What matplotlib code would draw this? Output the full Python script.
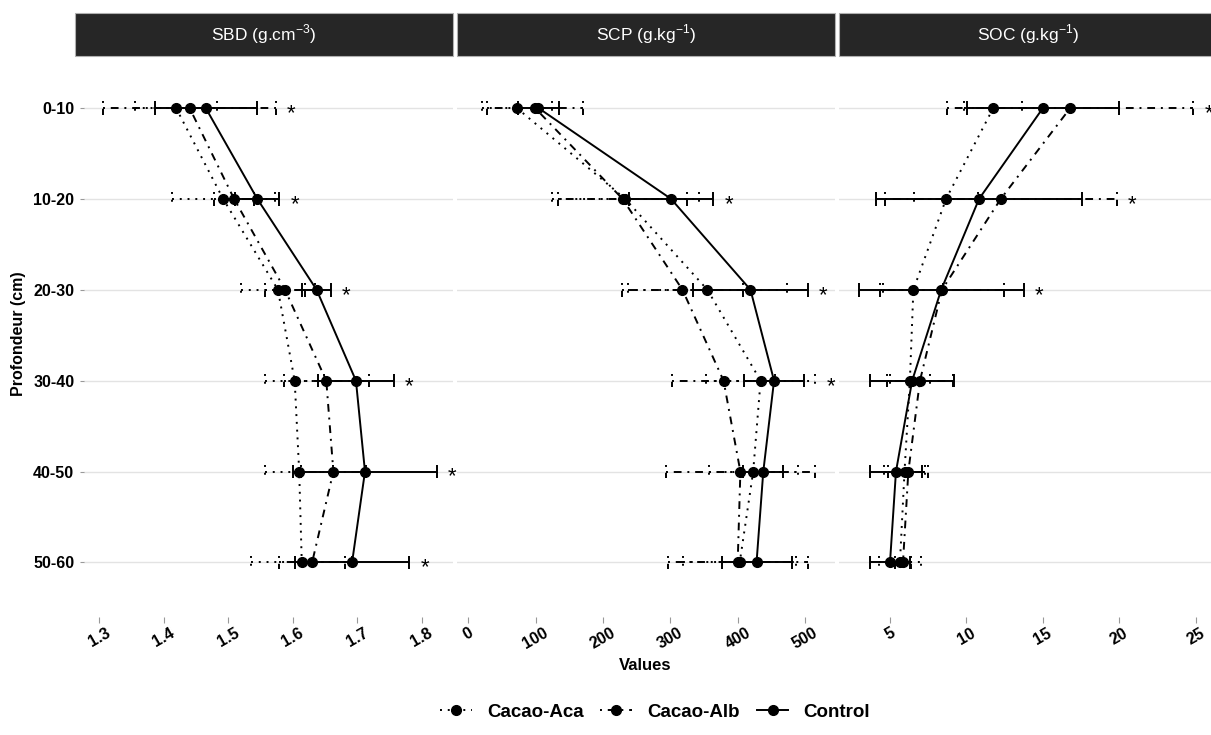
import numpy as np
import matplotlib
matplotlib.use("Agg")
import matplotlib.pyplot as plt
from matplotlib.lines import Line2D
from matplotlib.patches import Rectangle

plt.rcParams['font.family'] = ['Liberation Sans', 'DejaVu Sans']
plt.rcParams['mathtext.fontset'] = 'custom'
plt.rcParams['mathtext.rm'] = 'Liberation Sans'

# --- data ---
depths = ["0-10", "10-20", "20-30", "30-40", "40-50", "50-60"]
series = ["Cacao-Aca", "Cacao-Alb", "Control"]

sbd_aca = [1.419, 1.492, 1.577, 1.603, 1.610, 1.614]
sbd_aca_sd = [0.064, 0.080, 0.058, 0.046, 0.053, 0.078]
sbd_alb = [1.440, 1.509, 1.588, 1.652, 1.663, 1.630]
sbd_alb_sd = [0.134, 0.031, 0.031, 0.066, 0.050, 0.051]
sbd_ctl = [1.465, 1.545, 1.637, 1.698, 1.712, 1.692]
sbd_ctl_sd = [0.079, 0.034, 0.022, 0.059, 0.111, 0.089]
sbd_sig = [True, True, True, True, True, True]

scp_aca = [72, 233, 355, 434, 423, 403]
scp_aca_sd = [52, 109, 118, 81, 66, 84]
scp_alb = [99, 229, 318, 379, 404, 400]
scp_alb_sd = [71, 96, 90, 77, 111, 104]
scp_ctl = [104, 301, 419, 454, 438, 428]
scp_ctl_sd = [30, 63, 85, 44, 30, 52]
scp_sig = [False, True, True, True, False, False]

soc_aca = [11.76, 8.67, 6.53, 6.30, 5.95, 5.65]
soc_aca_sd = [1.90, 2.10, 1.97, 1.32, 1.35, 1.38]
soc_alb = [16.80, 12.25, 8.40, 6.96, 6.20, 5.85]
soc_alb_sd = [8.05, 7.59, 4.08, 2.18, 1.31, 0.55]
soc_ctl = [15.01, 10.83, 8.35, 6.45, 5.39, 5.00]
soc_ctl_sd = [5.00, 6.72, 5.39, 2.76, 1.70, 1.31]
soc_sig = [True, True, True, False, False, False]

panels = [
    (r'SBD (g.cm$^{\mathregular{-3}}$)', [sbd_aca, sbd_alb, sbd_ctl],
     [sbd_aca_sd, sbd_alb_sd, sbd_ctl_sd], sbd_sig,
     [1.3, 1.4, 1.5, 1.6, 1.7, 1.8], ["1.3", "1.4", "1.5", "1.6", "1.7", "1.8"]),
    (r'SCP (g.kg$^{\mathregular{-1}}$)', [scp_aca, scp_alb, scp_ctl],
     [scp_aca_sd, scp_alb_sd, scp_ctl_sd], scp_sig,
     [0, 100, 200, 300, 400, 500], ["0", "100", "200", "300", "400", "500"]),
    (r'SOC (g.kg$^{\mathregular{-1}}$)', [soc_aca, soc_alb, soc_ctl],
     [soc_aca_sd, soc_alb_sd, soc_ctl_sd], soc_sig,
     [5, 10, 15, 20, 25], ["5", "10", "15", "20", "25"]),
]

# --- layout (pixels) ---
W, H = 1211, 735
LW = 1.4
styles = [(0, (1, 3)), (0, (1, 3, 4, 3)), '-']
panel_px = [(84, 453), (457, 835), (839, 1217)]
strip_px = [(75, 453), (457, 835), (839, 1217)]
xlims = [(1.2763, 1.8485), (-16.8, 544.5), (1.662, 26.40)]
top_px, bot_px = 55.7, 617
cap = 0.075

fig = plt.figure(figsize=(W / 100, H / 100), dpi=100)
ypos = np.arange(len(depths))

for i, (title, means, sds, sig, ticks, ticklabels) in enumerate(panels):
    x0, x1 = panel_px[i]
    ax = fig.add_axes([x0 / W, 1 - bot_px / H, (x1 - x0) / W, (bot_px - top_px) / H])
    for m, s, ls in zip(means, sds, styles):
        m = np.array(m, float)
        s = np.array(s, float)
        lo, hi = m - s, m + s
        ax.hlines(ypos, lo, hi, colors='black', linestyles=[ls], lw=LW, zorder=2)
        ax.vlines(lo, ypos - cap, ypos + cap, colors='black', linestyles=[ls], lw=LW, zorder=2)
        ax.vlines(hi, ypos - cap, ypos + cap, colors='black', linestyles=[ls], lw=LW, zorder=2)
        ax.plot(m, ypos, color='black', ls=ls, lw=LW, marker='o', ms=7, zorder=3)
    upper = np.max([np.array(m) + np.array(s) for m, s in zip(means, sds)], axis=0)
    for k, flag in enumerate(sig):
        if flag:
            ax.annotate('*', xy=(upper[k], ypos[k]), xytext=(8, -8), textcoords='offset points',
                        ha='left', va='baseline', fontsize=16, color='black')
    ax.set_xlim(*xlims[i])
    ax.set_ylim(len(depths) - 0.4, -0.575)
    ax.set_xticks(ticks)
    ax.set_xticklabels(ticklabels, rotation=30, ha='center', fontweight='bold', fontsize=11.5)
    ax.set_yticks(ypos)
    ax.yaxis.grid(True, color='#e3e3e3', lw=1.0, zorder=0)
    ax.xaxis.grid(False)
    ax.set_axisbelow(True)
    for sp in ax.spines.values():
        sp.set_visible(False)
    ax.tick_params(axis='x', length=4, width=0.8, color='#999999', pad=2, labelcolor='black')
    if i == 0:
        ax.set_yticklabels(depths, fontweight='bold', fontsize=11.5)
        ax.tick_params(axis='y', length=3, width=0.8, color='#999999', pad=4)
    else:
        ax.tick_params(axis='y', left=False, labelleft=False)

    sx0, sx1 = strip_px[i]
    fig.patches.append(Rectangle((sx0 / W, 1 - 55.7 / H), (sx1 - sx0) / W, 43 / H,
                                 transform=fig.transFigure, facecolor='#262626',
                                 edgecolor='#b0b0b0', lw=0.8))
    fig.text((sx0 + sx1) / 2 / W, 1 - 34 / H, title, color='white', fontsize=12.5,
             ha='center', va='center')

fig.text(645 / W, 1 - 666 / H, 'Values', ha='center', va='center', fontweight='bold', fontsize=12)
fig.text(19 / W, 1 - 334 / H, 'Profondeur (cm)', rotation=90, ha='center', va='center',
         fontweight='bold', fontsize=11.5)

handles = [Line2D([], [], color='black', ls=ls, lw=LW, marker='o', ms=7) for ls in styles]
fig.legend(handles, series, loc='center', bbox_to_anchor=(655 / W, 1 - 712 / H), ncol=3,
           frameon=False, handlelength=1.7, handletextpad=0.8, columnspacing=0.9,
           prop={'weight': 'bold', 'size': 13.5})

fig.savefig('out.png', dpi=100, facecolor='white')
